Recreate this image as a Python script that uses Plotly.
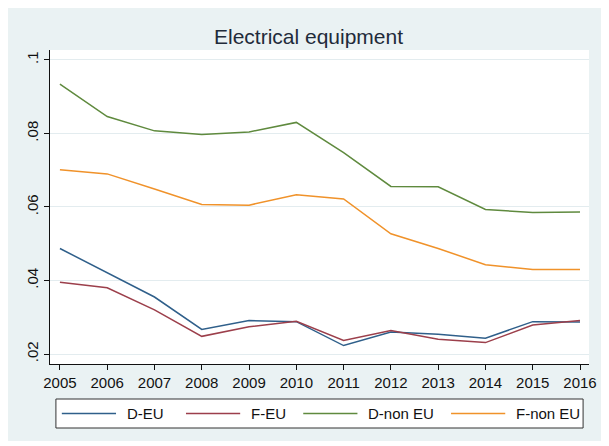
import plotly.graph_objects as go

FONT = "Liberation Sans, Arial, sans-serif"

years = list(range(2005, 2017))
series_names = ["D-EU", "F-EU", "D-non EU", "F-non EU"]
d_eu = [0.0487, 0.0420, 0.0355, 0.0267, 0.0291, 0.0288, 0.0223, 0.0260, 0.0254, 0.0243, 0.0288, 0.0287]
f_eu = [0.0395, 0.0380, 0.0320, 0.0248, 0.0274, 0.0289, 0.0237, 0.0264, 0.0240, 0.0231, 0.0279, 0.0291]
d_non_eu = [0.0934, 0.0846, 0.0807, 0.0797, 0.0804, 0.0830, 0.0748, 0.0656, 0.0655, 0.0593, 0.0585, 0.0586]
f_non_eu = [0.0701, 0.0690, 0.0649, 0.0607, 0.0605, 0.0633, 0.0622, 0.0527, 0.0487, 0.0443, 0.0430, 0.0430]
y_ticks = [0.02, 0.04, 0.06, 0.08, 0.1]
y_tick_labels = [".02", ".04", ".06", ".08", ".1"]

COLORS = ["#2f5f8a", "#9c3f4b", "#5f8a3e", "#f0922a"]
BG = "#eaf2f3"
GRID = "#e3ecef"

# the page body adds an 8px margin, so the figure starts at (8, 8) on screen
OFF = 8
W, H = 601, 433
# plot area in screen pixels
L, R, T, B = 50, 597, 50, 364


def px_x(p):
    return (p - L) / (R - L)


def px_y(p):
    return (B - p) / (B - T)


fig = go.Figure()
for name, values, color in zip(series_names, [d_eu, f_eu, d_non_eu, f_non_eu], COLORS):
    fig.add_trace(go.Scatter(x=years, y=values, mode="lines", name=name,
                             line=dict(color=color, width=1.5), showlegend=False))

# legend drawn by hand so the sample lines get Stata's length
legend_line_x = [62, 188, 307, 457]
legend_y = 413.5
shapes = [dict(type="rect", xref="paper", yref="paper",
               x0=px_x(56), x1=px_x(591), y0=px_y(428), y1=px_y(399),
               fillcolor="white", line=dict(color="#333333", width=1))]
annotations = []
for name, color, lx in zip(series_names, COLORS, legend_line_x):
    shapes.append(dict(type="line", xref="paper", yref="paper",
                       x0=px_x(lx), x1=px_x(lx + 55), y0=px_y(legend_y), y1=px_y(legend_y),
                       line=dict(color=color, width=1.5)))
    annotations.append(dict(text=name, xref="paper", yref="paper", showarrow=False,
                            x=px_x(lx + 64), y=px_y(legend_y), xanchor="left", yanchor="middle",
                            font=dict(family=FONT, size=15, color="#111111")))

fig.update_layout(
    width=W, height=H,
    margin=dict(l=L - OFF, r=W + OFF - R, t=T - OFF, b=H + OFF - B),
    paper_bgcolor=BG,
    plot_bgcolor="white",
    title=dict(text="Electrical equipment", x=0.5, xanchor="center",
               y=1 - (37 - OFF) / H, yanchor="middle", yref="container",
               font=dict(family=FONT, size=21, color="#1f2b3a")),
    shapes=shapes,
    annotations=annotations,
    showlegend=False,
)
fig.update_xaxes(range=[2004.79, 2016.19], tickvals=years, showgrid=False, zeroline=False,
                 showline=True, linecolor="#111111", linewidth=1,
                 ticks="outside", ticklen=5, tickcolor="#111111",
                 tickfont=dict(family=FONT, size=15, color="#111111"))
fig.update_yaxes(range=[0.01728, 0.1027], tickvals=y_ticks, ticktext=y_tick_labels,
                 showgrid=True, gridcolor=GRID, gridwidth=1, zeroline=False,
                 showline=True, linecolor="#111111", linewidth=1,
                 ticks="outside", ticklen=5, tickcolor="#111111", tickangle=-90,
                 tickfont=dict(family=FONT, size=15, color="#111111"))

fig.write_html("out.html")
